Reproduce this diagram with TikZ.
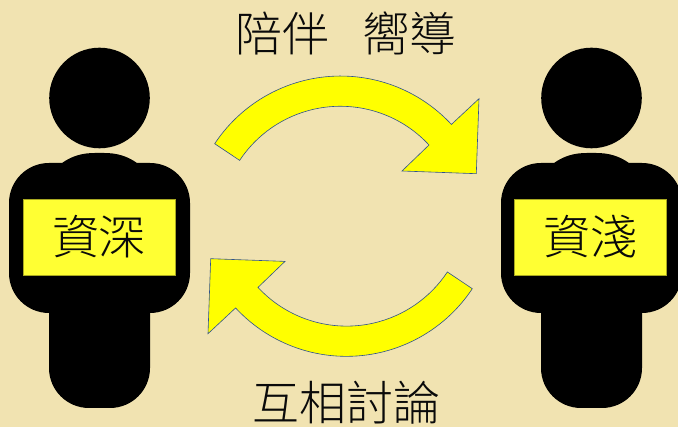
\documentclass[tikz,border=0pt]{standalone}
\usepackage{fontspec}
\newfontfamily\cjk{Noto Sans CJK TC Light}
\definecolor{bgc}{HTML}{F1E3B1}
\definecolor{boxy}{HTML}{FFFF33}
\definecolor{boxe}{HTML}{A8A820}
\definecolor{arrowe}{HTML}{2F528F}
\definecolor{arrowy}{HTML}{FFFF00}
\definecolor{inkc}{HTML}{0A0A0A}
\tikzset{
  figure/.style={fill=black,draw=none},
  labelbox/.style={fill=boxy,draw=boxe,line width=.5pt,minimum width=151.5pt,minimum height=76pt,inner sep=0pt,font=\cjk\fontsize{47}{47}\selectfont,text=inkc},
  caption/.style={font=\cjk\fontsize{47}{47}\selectfont,text=inkc,inner sep=0pt},
  blockarrow/.style={fill=arrowy,draw=arrowe,line width=.6pt,line join=miter}
}
\newcommand{\personshape}{%
  \fill[figure] (99.5,329) circle[radius=50.3pt];
  \fill[figure] (9,154) -- (9,224) arc[start angle=180,end angle=90,radius=40pt]
     -- (62,264) .. controls (72,271) and (82,274) .. (95,274) -- (104,274)
     .. controls (117,274) and (127,271) .. (137,264)
     -- (150,264) arc[start angle=90,end angle=0,radius=40pt]
     -- (190,154) arc[start angle=0,end angle=-90,radius=40pt]
     -- (150,59) arc[start angle=0,end angle=-90,radius=40pt]
     -- (89,19) arc[start angle=-90,end angle=-180,radius=40pt]
     -- (49,114) arc[start angle=-90,end angle=-180,radius=40pt] -- cycle;
}
\newcommand{\bentarrow}{%
  \path[blockarrow] (214.7,283.3) arc[start angle=146.5,end angle=42.8,radius=151pt]
  -- (479,328.3) -- (476.3,253.3) -- (402,256) -- (429,282)
  arc[start angle=42.8,end angle=146.5,radius=120.8pt] -- cycle;
}
\begin{document}
\begin{tikzpicture}[x=1pt,y=1pt]
\useasboundingbox (0,0) rectangle (678,427);
\fill[bgc] (0,0) rectangle (678,427);
\personshape
\begin{scope}[xshift=492pt]\personshape\end{scope}
\node[labelbox] (senior) at (99,190) {資深};
\node[labelbox] (junior) at (590,190) {資淺};
\node[caption] (top) at (346,394) {陪伴\hspace{34pt}嚮導};
\node[caption] (bottom) at (346,24) {互相討論};
\bentarrow
\begin{scope}[rotate around={180:(343.5,210.8)}]\bentarrow\end{scope}
\end{tikzpicture}
\end{document}
